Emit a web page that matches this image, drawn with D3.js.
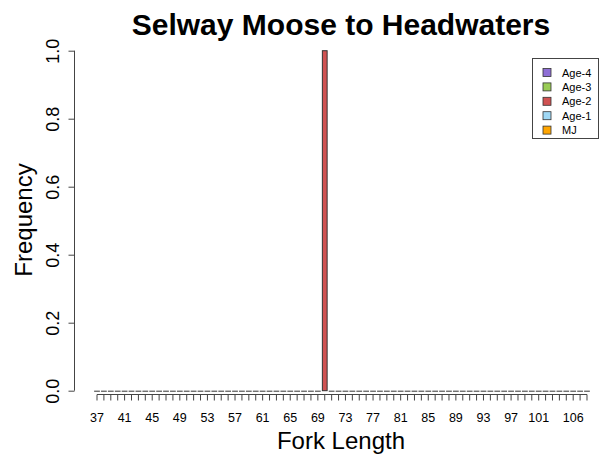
<!DOCTYPE html>
<html>
<head>
<meta charset="utf-8">
<script src="https://cdn.jsdelivr.net/npm/d3@7"></script>
<style>
  body { margin: 0; background: #fff; }
  text { font-family: "Liberation Sans", Arial, sans-serif; fill: #000; }
</style>
</head>
<body>
<div id="chart"></div>
<script>
// fork length classes (mm) shown along the x axis
const forkLengths = [37, 38, 39, 40, 41, 42, 43, 44, 45, 46, 47, 48, 49, 50, 51, 52, 53, 54,
  55, 56, 57, 58, 59, 60, 61, 62, 63, 64, 65, 66, 67, 68, 69, 70, 71, 72, 73, 74, 75, 76,
  77, 78, 79, 80, 81, 82, 83, 84, 85, 86, 87, 88, 89, 90, 91, 92, 93, 94, 95, 96, 97, 98,
  99, 100, 101, 102, 103, 104, 105, 106, 107, 108];

// frequency of Age-2 fish per length class (the other ages are all zero)
const age2Freq = [0, 0, 0, 0, 0, 0, 0, 0, 0, 0, 0, 0, 0, 0, 0, 0, 0, 0,
  0, 0, 0, 0, 0, 0, 0, 0, 0, 0, 0, 0, 0, 0, 0, 1, 0, 0, 0, 0, 0, 0,
  0, 0, 0, 0, 0, 0, 0, 0, 0, 0, 0, 0, 0, 0, 0, 0, 0, 0, 0, 0, 0, 0,
  0, 0, 0, 0, 0, 0, 0, 0, 0, 0];

// labels R managed to fit under the axis
const xTickLabels = [37, 41, 45, 49, 53, 57, 61, 65, 69, 73, 77, 81, 85, 89, 93, 97, 101, 106];
const yTicks = [0, 0.2, 0.4, 0.6, 0.8, 1.0];

const ageGroups = ["Age-4", "Age-3", "Age-2", "Age-1", "MJ"];
const ageColors = ["#8f6fd6", "#99cc55", "#d05252", "#9fd8f5", "#ffa500"];

var width = 601;
var height = 459;

var svg = d3.select("#chart")
  .append("svg")
  .attr("width", width)
  .attr("height", height);

// scales, set so the first bar centre sits at 97px and the step is ~6.9px
var x = d3.scaleBand()
  .domain(forkLengths)
  .range([93.55, 590.45])
  .paddingInner(1 / 6)
  .paddingOuter(1 / 12);

var y = d3.scaleLinear()
  .domain([0, 1])
  .range([390.7, 50.7]);

var colorOf = d3.scaleOrdinal().domain(ageGroups).range(ageColors);

var barData = forkLengths.map((l, i) => ({ len: l, freq: age2Freq[i] }));

// bars with a count
svg.append("g")
  .selectAll("rect")
  .data(barData.filter(d => d.freq > 0))
  .join("rect")
  .attr("x", d => x(d.len) + 0.5)
  .attr("y", d => y(d.freq))
  .attr("width", x.bandwidth() - 1)
  .attr("height", d => y(0) - y(d.freq))
  .attr("fill", colorOf("Age-2"))
  .attr("stroke", "#333")
  .attr("stroke-width", 1);

// empty bars collapse to their outline -> dashed baseline
svg.append("g")
  .selectAll("line")
  .data(barData.filter(d => d.freq === 0))
  .join("line")
  .attr("x1", d => x(d.len))
  .attr("x2", d => x(d.len) + x.bandwidth())
  .attr("y1", y(0) + 0.5)
  .attr("y2", y(0) + 0.5)
  .attr("stroke", "#333")
  .attr("stroke-width", 1);

// x axis: line through tick centres, ticks at every class
var xAxis = svg.append("g")
  .attr("transform", "translate(0,394.5)");

xAxis.append("line")
  .attr("x1", x(forkLengths[0]) + x.bandwidth() / 2)
  .attr("x2", x(forkLengths[forkLengths.length - 1]) + x.bandwidth() / 2)
  .attr("stroke", "#444");

xAxis.selectAll("line.tick")
  .data(forkLengths)
  .join("line")
  .attr("class", "tick")
  .attr("x1", d => x(d) + x.bandwidth() / 2)
  .attr("x2", d => x(d) + x.bandwidth() / 2)
  .attr("y1", 0)
  .attr("y2", 6)
  .attr("stroke", "#444");

xAxis.selectAll("text")
  .data(xTickLabels)
  .join("text")
  .attr("x", d => x(d) + x.bandwidth() / 2)
  .attr("y", 27)
  .attr("text-anchor", "middle")
  .attr("font-size", "12.5px")
  .text(d => d);

// y axis, R style with rotated labels
var yAxis = svg.append("g")
  .attr("transform", "translate(74.5,0)")
  .call(d3.axisLeft(y).tickValues(yTicks).tickSize(6).tickFormat(d3.format(".1f")));

yAxis.select(".domain").attr("stroke", "#444").attr("d", "M0," + y(0) + "V" + y(1));
yAxis.selectAll(".tick line").attr("stroke", "#444");
yAxis.selectAll(".tick text")
  .attr("font-size", "18px")
  .attr("font-family", "'Liberation Sans', Arial, sans-serif")
  .attr("fill", "#000")
  .attr("transform", "rotate(-90)")
  .attr("x", 0)
  .attr("y", -16)
  .attr("dy", 0)
  .attr("text-anchor", "middle");

// titles
svg.append("text")
  .attr("x", 341)
  .attr("y", 35)
  .attr("text-anchor", "middle")
  .attr("font-size", "30px")
  .attr("font-weight", "bold")
  .text("Selway Moose to Headwaters");

svg.append("text")
  .attr("x", 341)
  .attr("y", 449)
  .attr("text-anchor", "middle")
  .attr("font-size", "24px")
  .text("Fork Length");

svg.append("text")
  .attr("transform", "translate(32,220) rotate(-90)")
  .attr("text-anchor", "middle")
  .attr("font-size", "24px")
  .text("Frequency");

// legend
var legend = svg.append("g");

legend.append("rect")
  .attr("x", 532.5)
  .attr("y", 58.5)
  .attr("width", 66)
  .attr("height", 80)
  .attr("fill", "#fff")
  .attr("stroke", "#444");

ageGroups.forEach((a, i) => {
  const cy = 72.5 + i * 14.4;
  legend.append("rect")
    .attr("x", 543)
    .attr("y", cy - 4)
    .attr("width", 8)
    .attr("height", 8)
    .attr("fill", colorOf(a))
    .attr("stroke", "#333")
    .attr("stroke-width", 0.8);
  legend.append("text")
    .attr("x", 562)
    .attr("y", cy + 4)
    .attr("font-size", "11px")
    .text(a);
});
</script>
</body>
</html>
